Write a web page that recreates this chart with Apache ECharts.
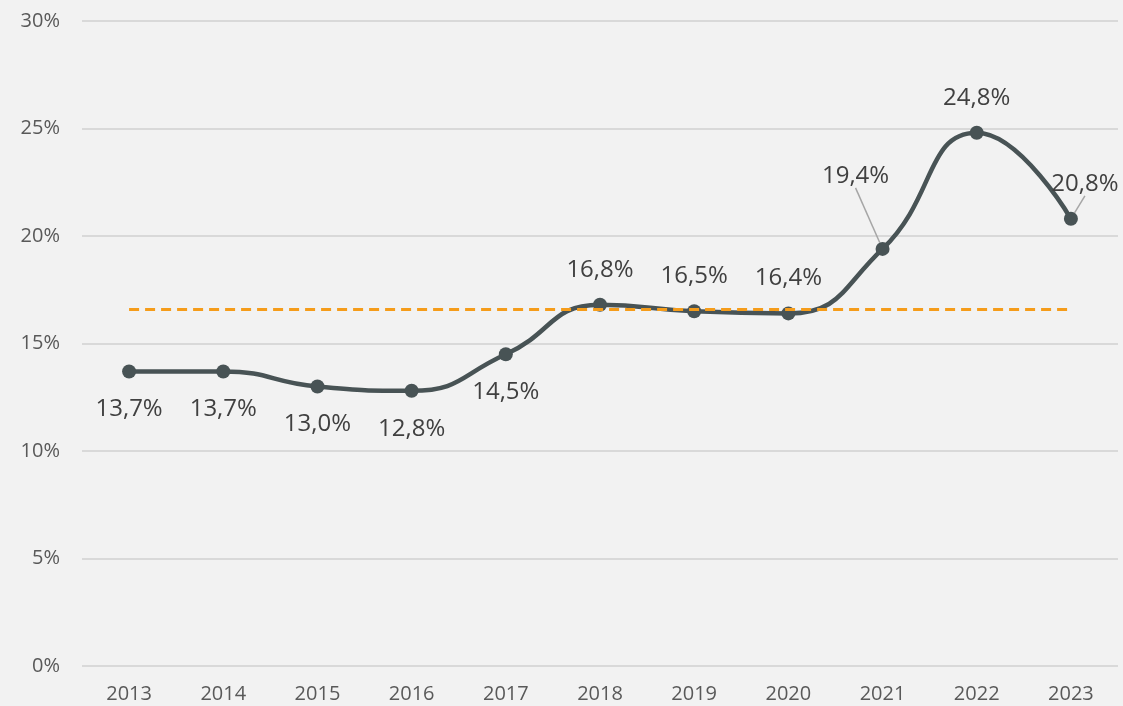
<!DOCTYPE html>
<html>
<head>
<meta charset="utf-8">
<script src="https://cdn.jsdelivr.net/npm/echarts@6/dist/echarts.min.js"></script>
<style>
    html, body { margin: 0; padding: 0; background: #f2f2f2; }
    #main { width: 1123px; height: 706px; }
</style>
</head>
<body>
<div id="main"></div>
<script>
var years = ['2013', '2014', '2015', '2016', '2017', '2018', '2019', '2020', '2021', '2022', '2023'];
var rates = [13.7, 13.7, 13.0, 12.8, 14.5, 16.8, 16.5, 16.4, 19.4, 24.8, 20.8];
var averageRate = 16.6;
var yTicks = [0, 5, 10, 15, 20, 25, 30];

var fontName = '"Open Sans", "Noto Sans", sans-serif';

// where each value label sits
var labelSide = ['bottom', 'bottom', 'bottom', 'bottom', 'bottom', 'top', 'top', 'top', 'top', 'top', 'top'];

var points = [];
for (var i = 0; i < rates.length; i++) {
    var item = {
        value: rates[i],
        label: { position: labelSide[i], distance: labelSide[i] == 'bottom' ? 19 : 16 }
    };
    if (i == 8 || i == 10) {
        item.labelLine = { show: true, lineStyle: { color: '#a6a6a6', width: 1.5 } };
    }
    points.push(item);
}

var chartOptions = {
    backgroundColor: '#f2f2f2',
    animation: false,
    textStyle: { fontFamily: fontName },
    grid: {
        left: 82,
        right: 5,
        top: 21,
        bottom: 40
    },
    xAxis: {
        type: 'category',
        data: years,
        boundaryGap: true,
        axisLine: { show: false },
        axisTick: { show: false },
        axisLabel: {
            color: '#595959',
            fontSize: 20,
            fontFamily: fontName,
            margin: 18
        }
    },
    yAxis: {
        type: 'value',
        min: yTicks[0],
        max: yTicks[yTicks.length - 1],
        interval: 5,
        axisLine: { show: false },
        axisTick: { show: false },
        splitLine: { lineStyle: { color: '#d9d9d9', width: 2 } },
        axisLabel: {
            color: '#595959',
            fontSize: 20,
            fontFamily: fontName,
            margin: 22,
            formatter: '{value}%'
        }
    },
    series: [{
        name: 'rate',
        type: 'line',
        smooth: 0.5,
        data: points,
        symbol: 'circle',
        symbolSize: 14,
        lineStyle: { color: '#485355', width: 4.5 },
        itemStyle: { color: '#485355' },
        label: {
            show: true,
            color: '#404040',
            fontSize: 24,
            fontFamily: fontName,
            formatter: function (p) {
                return p.value.toFixed(1).replace('.', ',') + '%';
            }
        },
        labelLayout: function (p) {
            if (p.dataIndex == 8) return { dx: -27, dy: -38 };
            if (p.dataIndex == 10) return { dx: 14, dy: 0 };
            return {};
        },
        markLine: {
            silent: true,
            symbol: 'none',
            label: { show: false },
            lineStyle: { color: '#f59c1a', width: 3, type: [10, 6] },
            data: [[
                { coord: [years[0], averageRate] },
                { coord: [years[years.length - 1], averageRate] }
            ]]
        },
        z: 3
    }]
};

var chart = echarts.init(document.getElementById('main'));
chart.setOption(chartOptions);
</script>
</body>
</html>
